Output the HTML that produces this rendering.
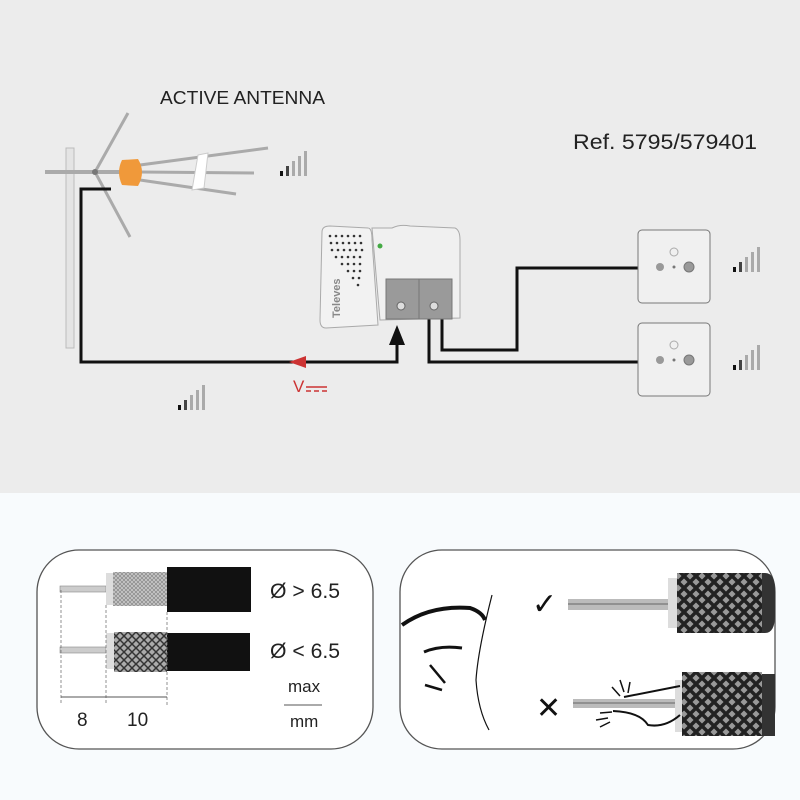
<!DOCTYPE html>
<html><head><meta charset="utf-8"><style>
body{margin:0;background:#fff}
svg{display:block}
text{font-family:"Liberation Sans",sans-serif}
</style></head><body>
<svg width="800" height="800" viewBox="0 0 800 800" xmlns="http://www.w3.org/2000/svg">
<defs>
<pattern id="mesh" width="8" height="8" patternUnits="userSpaceOnUse">
<rect width="8" height="8" fill="#aaa"/>
<path d="M0 0L8 8M8 0L0 8" stroke="#333" stroke-width="1.5"/>
</pattern>
<pattern id="fine" width="4" height="4" patternUnits="userSpaceOnUse">
<rect width="4" height="4" fill="#c8c8c8"/>
<path d="M0 0L4 4M4 0L0 4" stroke="#888" stroke-width="0.7"/>
</pattern>
<pattern id="big" width="12" height="12" patternUnits="userSpaceOnUse">
<rect width="12" height="12" fill="#999"/>
<path d="M0 0L12 12M12 0L0 12" stroke="#222" stroke-width="3.5"/>
</pattern>
<g id="b">
<rect x="0" y="20" width="3" height="5" fill="#111"/>
<rect x="6" y="15" width="3" height="10" fill="#444"/>
<rect x="12" y="10" width="3" height="15" fill="#aaa"/>
<rect x="18" y="5" width="3" height="20" fill="#aaa"/>
<rect x="24" y="0" width="3" height="25" fill="#aaa"/>
</g>
</defs>
<rect width="800" height="493" fill="#ececec"/>
<rect y="493" width="800" height="307" fill="#f8fbfd"/>

<text x="160" y="104" font-size="18" fill="#222" textLength="165" lengthAdjust="spacingAndGlyphs">ACTIVE ANTENNA</text>
<text x="573" y="149" font-size="21" fill="#222" textLength="184" lengthAdjust="spacingAndGlyphs">Ref. 5795/579401</text>

<!-- mast -->
<rect x="66" y="148" width="8" height="200" fill="#e4e4e4" stroke="#bbb"/>
<line x1="45" y1="172" x2="125" y2="172" stroke="#aaa" stroke-width="4"/>
<polyline points="128,113 95,172 130,237" fill="none" stroke="#aaa" stroke-width="3"/>
<line x1="140" y1="165" x2="268" y2="148" stroke="#aaa" stroke-width="3"/>
<line x1="140" y1="172" x2="254" y2="173" stroke="#aaa" stroke-width="3"/>
<line x1="140" y1="180" x2="236" y2="194" stroke="#aaa" stroke-width="3"/>
<path d="M198 155 L208 153 L204 188 L192 190 Z" fill="#fff" stroke="#ccc"/>
<path d="M122 160 L138 159 Q146 172 138 186 L122 185 Q116 172 122 160 Z" fill="#f0993a"/>
<circle cx="95" cy="172" r="3" fill="#777"/>

<!-- cable -->
<polyline points="111,189 81,189 81,362 397,362 397,340" fill="none" stroke="#111" stroke-width="3"/>
<polygon points="389,345 405,345 397,325" fill="#111"/>
<polygon points="289,362 306,356 306,368" fill="#c33"/>
<text x="293" y="392" font-size="17" fill="#c33">V</text>
<line x1="306" y1="387" x2="327" y2="387" stroke="#c33" stroke-width="1.5"/>
<line x1="306" y1="391" x2="311" y2="391" stroke="#c33" stroke-width="1.5"/>
<line x1="314" y1="391" x2="319" y2="391" stroke="#c33" stroke-width="1.5"/>
<line x1="322" y1="391" x2="327" y2="391" stroke="#c33" stroke-width="1.5"/>

<polyline points="429,318 429,362 638,362" fill="none" stroke="#111" stroke-width="3"/>
<polyline points="442,318 442,350 517,350 517,268 638,268" fill="none" stroke="#111" stroke-width="3"/>

<!-- amplifier -->
<path d="M322 232 Q322 226 330 226 L368 228 Q372 228 372 240 L378 325 L326 328 Q320 328 320 320 Z" fill="#f2f2f2" stroke="#aaa"/>
<path d="M372 228 L392 228 Q400 224 410 226 L455 228 Q460 230 460 240 L460 318 L380 320 Z" fill="#f0f0f0" stroke="#aaa"/>
<g fill="#333">
<circle cx="330" cy="236" r="1.3"/><circle cx="336" cy="236" r="1.3"/><circle cx="342" cy="236" r="1.3"/><circle cx="348" cy="236" r="1.3"/><circle cx="354" cy="236" r="1.3"/><circle cx="360" cy="236" r="1.3"/>
<circle cx="331" cy="243" r="1.3"/><circle cx="337" cy="243" r="1.3"/><circle cx="343" cy="243" r="1.3"/><circle cx="349" cy="243" r="1.3"/><circle cx="355" cy="243" r="1.3"/><circle cx="361" cy="243" r="1.3"/>
<circle cx="332" cy="250" r="1.3"/><circle cx="338" cy="250" r="1.3"/><circle cx="344" cy="250" r="1.3"/><circle cx="350" cy="250" r="1.3"/><circle cx="356" cy="250" r="1.3"/><circle cx="362" cy="250" r="1.3"/>
<circle cx="336" cy="257" r="1.3"/><circle cx="342" cy="257" r="1.3"/><circle cx="348" cy="257" r="1.3"/><circle cx="354" cy="257" r="1.3"/><circle cx="360" cy="257" r="1.3"/>
<circle cx="342" cy="264" r="1.3"/><circle cx="348" cy="264" r="1.3"/><circle cx="354" cy="264" r="1.3"/><circle cx="360" cy="264" r="1.3"/>
<circle cx="348" cy="271" r="1.3"/><circle cx="354" cy="271" r="1.3"/><circle cx="360" cy="271" r="1.3"/>
<circle cx="353" cy="278" r="1.3"/><circle cx="359" cy="278" r="1.3"/><circle cx="358" cy="285" r="1.3"/>
</g>
<circle cx="380" cy="246" r="2.5" fill="#4a4"/>
<text x="0" y="0" font-size="11" font-weight="bold" fill="#888" transform="translate(340,318) rotate(-90)">Televes</text>
<rect x="386" y="279" width="66" height="40" fill="#9a9a9a" stroke="#777"/>
<line x1="419" y1="279" x2="419" y2="319" stroke="#777"/>
<circle cx="401" cy="306" r="4" fill="#ddd" stroke="#666"/>
<circle cx="434" cy="306" r="4" fill="#ddd" stroke="#666"/>

<!-- outlets -->
<g>
<rect x="638" y="230" width="72" height="73" rx="4" fill="#f0f0f0" stroke="#777"/>
<circle cx="674" cy="252" r="4" fill="none" stroke="#aaa"/>
<circle cx="660" cy="267" r="4" fill="#999"/><circle cx="674" cy="267" r="1.5" fill="#777"/><circle cx="689" cy="267" r="5" fill="#999" stroke="#777"/>
<rect x="638" y="323" width="72" height="73" rx="4" fill="#f0f0f0" stroke="#777"/>
<circle cx="674" cy="345" r="4" fill="none" stroke="#aaa"/>
<circle cx="660" cy="360" r="4" fill="#999"/><circle cx="674" cy="360" r="1.5" fill="#777"/><circle cx="689" cy="360" r="5" fill="#999" stroke="#777"/>
</g>

<use href="#b" x="280" y="151"/>
<use href="#b" x="733" y="247"/>
<use href="#b" x="733" y="345"/>
<use href="#b" x="178" y="385"/>

<!-- bottom left panel -->
<rect x="37" y="550" width="336" height="199" rx="42" fill="#fff" stroke="#555" stroke-width="1.3"/>
<rect x="60" y="586" width="46" height="6" fill="#ccc" stroke="#888" stroke-width="0.6"/>
<rect x="106" y="573" width="8" height="32" fill="#ddd"/>
<rect x="113" y="572" width="54" height="34" fill="url(#fine)"/>
<rect x="167" y="567" width="84" height="45" fill="#111"/>
<rect x="60" y="647" width="46" height="6" fill="#ccc" stroke="#888" stroke-width="0.6"/>
<rect x="106" y="633" width="8" height="36" fill="#ddd"/>
<rect x="114" y="632" width="53" height="40" fill="url(#mesh)"/>
<rect x="167" y="633" width="83" height="38" fill="#111"/>
<g stroke="#777" stroke-dasharray="3,2" stroke-width="0.8">
<line x1="61" y1="590" x2="61" y2="705"/><line x1="106" y1="605" x2="106" y2="705"/><line x1="167" y1="612" x2="167" y2="705"/>
</g>
<line x1="61" y1="697" x2="167" y2="697" stroke="#555"/>
<text x="270" y="598" font-size="21" fill="#222" textLength="70" lengthAdjust="spacingAndGlyphs">Ø &gt; 6.5</text>
<text x="270" y="658" font-size="21" fill="#222" textLength="70" lengthAdjust="spacingAndGlyphs">Ø &lt; 6.5</text>
<text x="77" y="726" font-size="19" fill="#222">8</text>
<text x="127" y="726" font-size="19" fill="#222">10</text>
<text x="288" y="692" font-size="17" fill="#222">max</text>
<line x1="284" y1="705" x2="322" y2="705" stroke="#555"/>
<text x="290" y="727" font-size="17" fill="#222">mm</text>

<!-- bottom right panel -->
<rect x="400" y="550" width="375" height="199" rx="42" fill="#fff" stroke="#555" stroke-width="1.3"/>
<path d="M402 625 Q430 605 470 608 Q482 612 485 620" fill="none" stroke="#111" stroke-width="4"/>
<path d="M492 595 Q478 650 476 680 Q478 710 489 730" fill="none" stroke="#111" stroke-width="1.2"/>
<path d="M424 652 Q440 645 462 648" fill="none" stroke="#111" stroke-width="3"/>
<path d="M430 665 L445 683 M425 685 L442 690" fill="none" stroke="#111" stroke-width="2.5"/>
<text x="532" y="614" font-size="30" fill="#111">✓</text>
<text x="536" y="718" font-size="30" fill="#111">✕</text>
<rect x="568" y="599" width="102" height="11" fill="#bbb"/>
<line x1="568" y1="604" x2="670" y2="604" stroke="#666"/>
<rect x="668" y="578" width="10" height="50" fill="#ddd"/>
<rect x="677" y="573" width="85" height="60" fill="url(#big)"/>
<path d="M762 573 L765 573 Q775 573 775 590 L775 615 Q775 633 765 633 L762 633 Z" fill="#333"/>
<rect x="573" y="699" width="104" height="9" fill="#bbb"/>
<line x1="573" y1="703" x2="677" y2="703" stroke="#666"/>
<rect x="675" y="680" width="9" height="52" fill="#ddd"/>
<rect x="682" y="672" width="80" height="64" fill="url(#big)"/>
<path d="M762 674 L775 674 L775 736 L762 736 Z" fill="#333"/>
<path d="M624 697 Q660 690 680 686 M613 711 Q640 712 648 725 Q665 728 680 715" fill="none" stroke="#111" stroke-width="2"/>
<path d="M612 687 L620 696 M620 680 L624 692 M630 682 L628 693 M600 713 L612 712 M596 720 L608 718 M600 727 L610 722" stroke="#111" stroke-width="1.5"/>
</svg>
</body></html>
